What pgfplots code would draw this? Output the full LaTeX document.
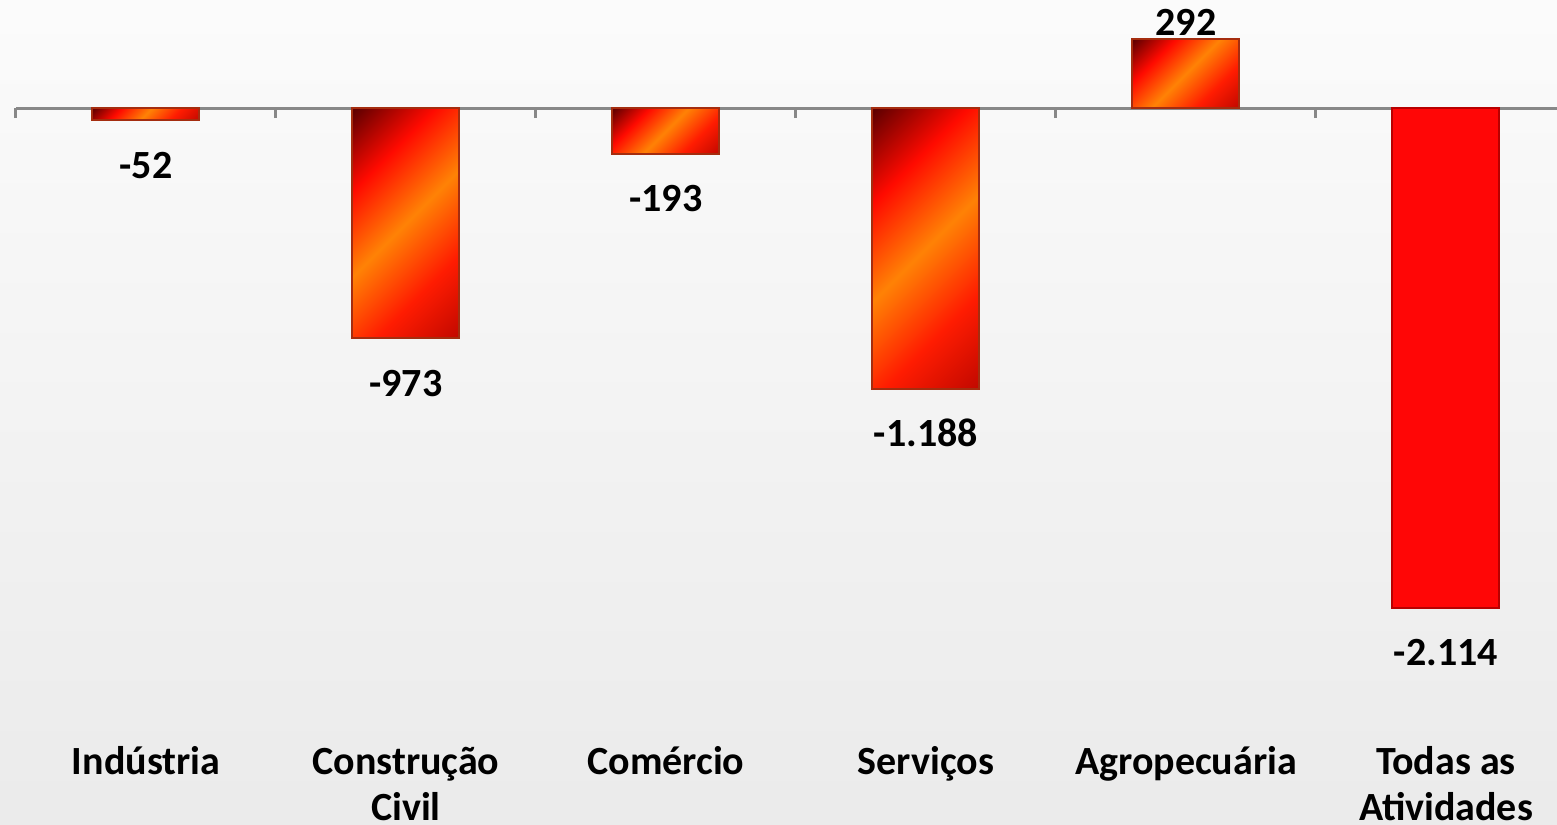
\documentclass[border=0pt]{standalone}
\usepackage{fontspec}
\setmainfont{Carlito}
\usepackage{pgfplots}
\pgfplotsset{compat=1.18}

\definecolor{barmaroon}{RGB}{95,0,0}
\definecolor{barred}{RGB}{255,10,0}
\definecolor{barorange}{RGB}{255,130,5}
\definecolor{baredge}{RGB}{165,45,15}
\definecolor{solidred}{RGB}{255,6,6}
\definecolor{zeroline}{RGB}{136,136,136}

% diagonal red/orange gradient of the bars (visible part is 15bp..85bp)
\pgfdeclarehorizontalshading{barshade}{100bp}{color(0bp)=(barmaroon); color(15bp)=(barmaroon); color(32bp)=(barred); color(50bp)=(barorange); color(68bp)=(barred!85!barorange); color(86bp)=(barred!75!black); color(100bp)=(barred!75!black)}

\pgfplotsset{
  gbar/.style={ybar, bar shift=0pt, shade, shading=barshade, shading angle=-45,
    draw=baredge, line width=0.5pt, nodes near coords},
  neglabel/.style={nodes near coords style={anchor=base, yshift=-14.5pt, text=black, font=\fontsize{10}{12}\selectfont\bfseries}},
  poslabel/.style={nodes near coords style={anchor=base, yshift=1pt, text=black, font=\fontsize{10}{12}\selectfont\bfseries}},
}

\begin{document}
\begin{tikzpicture}
  % page background, 1557x825 px at 0.25pt per px
  \shade[top color=gray!3, bottom color=gray!16] (0,0) rectangle (389.25pt,206.25pt);

  \begin{axis}[
    at={(4pt,0pt)}, anchor=south west,
    scale only axis, width=385.25pt, height=206.25pt,
    xmin=-0.5, xmax=5.427, ymin=-3032, ymax=457,
    axis x line=middle, axis y line=none,
    x axis line style={-, draw=zeroline, line width=0.75pt},
    ytick=\empty,
    xtick={0,...,5},
    xticklabels={\strut Indústria, {\strut Construção\\Civil}, \strut Comércio, \strut Serviços, \strut Agropecuária, {\strut Todas as\\Atividades}},
    major x tick style={draw=none},
    minor xtick={-0.5,0.5,...,4.5},
    minor tick length=2.5pt,
    minor x tick style={draw=zeroline, line width=0.75pt},
    tick align=outside,
    xticklabel style={font=\fontsize{10}{11.5}\selectfont\bfseries, align=center, anchor=north, yshift=-150.8pt},
    bar width=26.75pt,
    /pgf/number format/fixed,
    /pgf/number format/precision=0,
    /pgf/number format/1000 sep={.},
    /pgf/number format/assume math mode=true,
  ]
    % one plot per bar so that each bar gets its own gradient
    \addplot[gbar, neglabel] coordinates {(0,-52)};
    \addplot[gbar, neglabel] coordinates {(1,-973)};
    \addplot[gbar, neglabel] coordinates {(2,-193)};
    \addplot[gbar, neglabel] coordinates {(3,-1188)};
    \addplot[gbar, poslabel] coordinates {(4,292)};
    % total of all activities: plain red
    \addplot[ybar, bar shift=0pt, fill=solidred, draw=red!72!black, line width=0.5pt,
      nodes near coords, neglabel] coordinates {(5,-2114)};
  \end{axis}

  \pgfresetboundingbox
  \useasboundingbox (0,0) rectangle (389.25pt,206.25pt);
\end{tikzpicture}
\end{document}
